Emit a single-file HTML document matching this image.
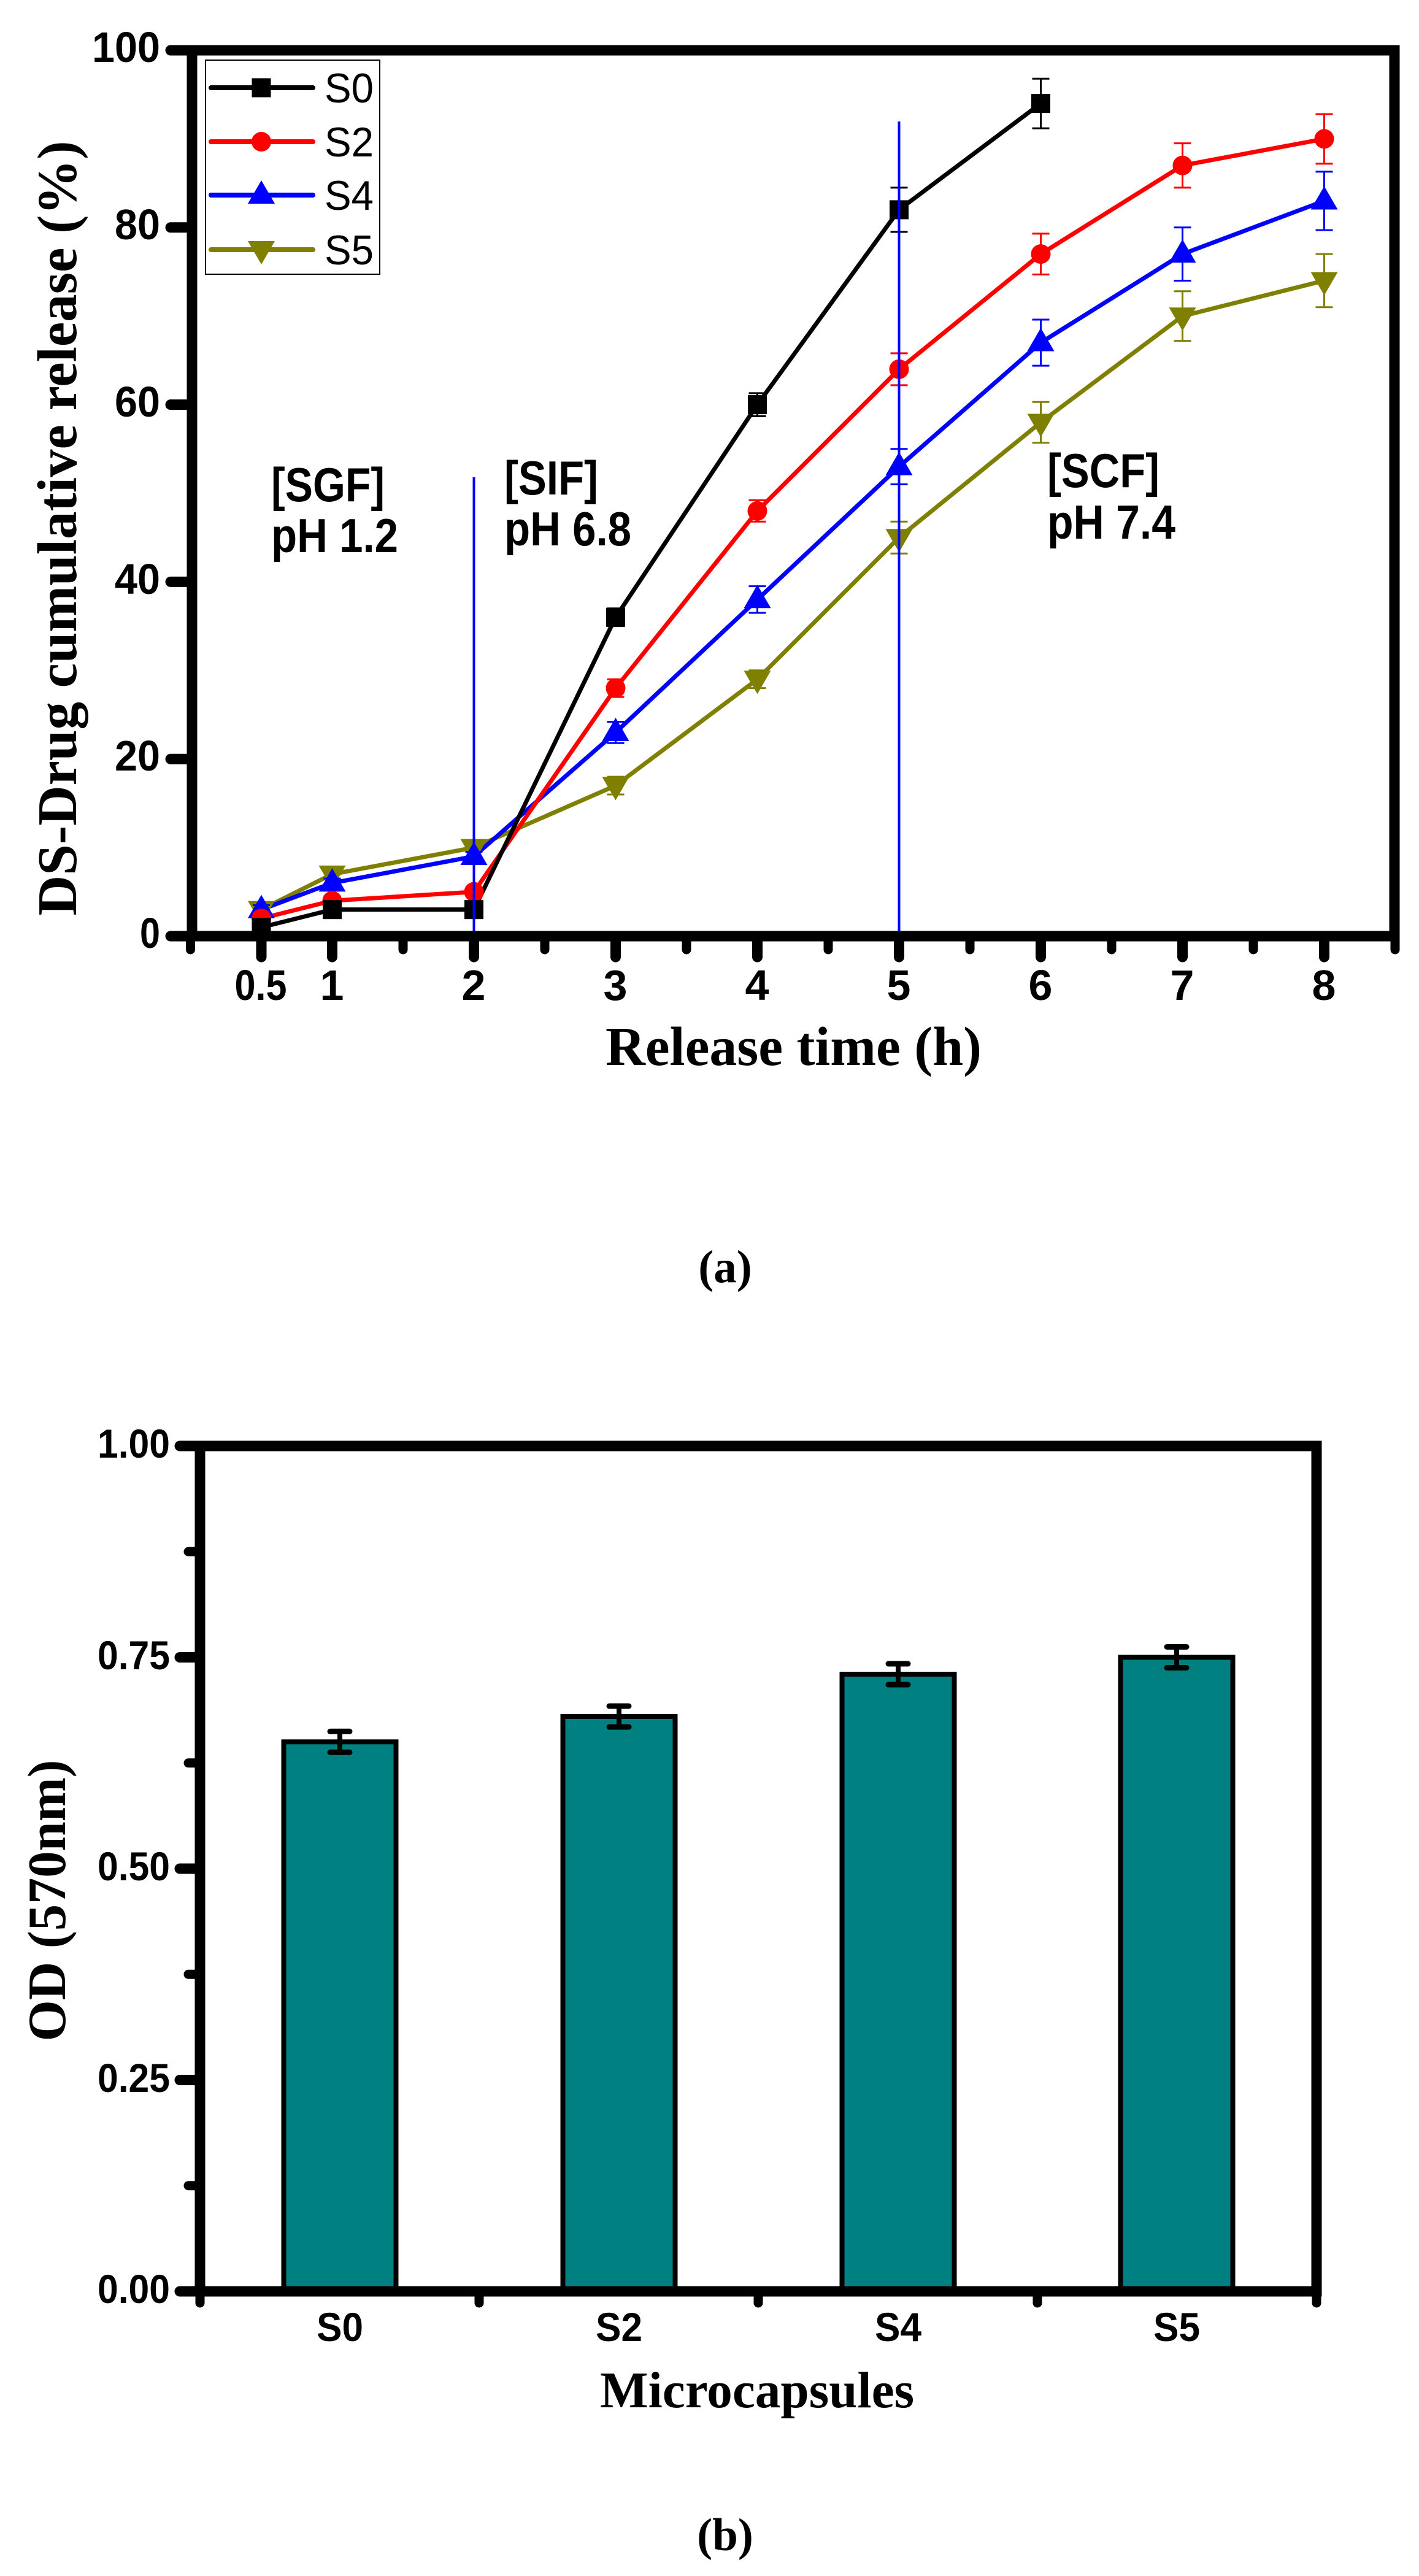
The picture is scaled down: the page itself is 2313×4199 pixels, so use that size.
<!DOCTYPE html>
<html><head><meta charset="utf-8">
<style>
html,body{margin:0;padding:0;background:#fff;}
svg{display:block;}
.tk{font-family:"Liberation Sans",Arial,sans-serif;font-weight:bold;}
.lg{font-family:"Liberation Sans",Arial,sans-serif;}
.sf{font-family:"Liberation Serif","Times New Roman",serif;font-weight:bold;}
</style></head>
<body>
<svg id="s" width="2313" height="4199" viewBox="0 0 2313 4199" xmlns="http://www.w3.org/2000/svg">
<rect width="2313" height="4199" fill="#fff"/>
<!-- ===== Chart A ===== -->
<g id="seriesA"></g>
<!-- blue divider lines -->
<line x1="772.5" y1="778" x2="772.5" y2="1526" stroke="#0000ff" stroke-width="4"/>
<line x1="1465.5" y1="198" x2="1465.5" y2="1526" stroke="#0000ff" stroke-width="4"/>
<g id="axesA" stroke="#000" stroke-linecap="round"></g>
<rect x="313" y="82" width="1960" height="1444" fill="none" stroke="#000" stroke-width="17"/>
<!-- legend -->
<rect x="335" y="98" width="284" height="349" fill="#fff" stroke="#000" stroke-width="2"/>
<g id="legend"></g>
<g class="lg" font-size="68" fill="#000">
<text x="529" y="167" textLength="80" lengthAdjust="spacingAndGlyphs">S0</text>
<text x="529" y="255" textLength="80" lengthAdjust="spacingAndGlyphs">S2</text>
<text x="529" y="342" textLength="80" lengthAdjust="spacingAndGlyphs">S4</text>
<text x="529" y="431" textLength="80" lengthAdjust="spacingAndGlyphs">S5</text>
</g>
<!-- y tick labels A -->
<g class="tk" font-size="70" text-anchor="end" fill="#000">
<text x="261" y="101" textLength="111" lengthAdjust="spacingAndGlyphs">100</text>
<text x="261" y="390" textLength="74" lengthAdjust="spacingAndGlyphs">80</text>
<text x="261" y="679" textLength="74" lengthAdjust="spacingAndGlyphs">60</text>
<text x="261" y="968" textLength="74" lengthAdjust="spacingAndGlyphs">40</text>
<text x="261" y="1256" textLength="74" lengthAdjust="spacingAndGlyphs">20</text>
<text x="261" y="1545" textLength="33" lengthAdjust="spacingAndGlyphs">0</text>
</g>
<!-- x tick labels A -->
<g class="tk" font-size="70" text-anchor="middle" fill="#000">
<text x="425" y="1630" textLength="85" lengthAdjust="spacingAndGlyphs">0.5</text>
<text x="541" y="1630">1</text>
<text x="772" y="1630">2</text>
<text x="1003" y="1630">3</text>
<text x="1234" y="1630">4</text>
<text x="1465" y="1630">5</text>
<text x="1696" y="1630">6</text>
<text x="1927" y="1630">7</text>
<text x="2158" y="1630">8</text>
</g>
<!-- annotations -->
<g class="tk" font-size="78" fill="#000">
<text x="442" y="817" textLength="185" lengthAdjust="spacingAndGlyphs">[SGF]</text>
<text x="442" y="900" textLength="207" lengthAdjust="spacingAndGlyphs">pH 1.2</text>
<text x="822" y="806" textLength="153" lengthAdjust="spacingAndGlyphs">[SIF]</text>
<text x="822" y="889" textLength="207" lengthAdjust="spacingAndGlyphs">pH 6.8</text>
<text x="1707" y="794" textLength="183" lengthAdjust="spacingAndGlyphs">[SCF]</text>
<text x="1707" y="878" textLength="209" lengthAdjust="spacingAndGlyphs">pH 7.4</text>
</g>
<!-- axis titles A -->
<text class="sf" x="987" y="1736" font-size="90" textLength="613" lengthAdjust="spacingAndGlyphs">Release time (h)</text>
<text class="sf" transform="translate(124,861) rotate(-90)" text-anchor="middle" font-size="91" textLength="1263" lengthAdjust="spacingAndGlyphs">DS-Drug cumulative release (%)</text>
<text class="sf" x="1182" y="2090" font-size="75" text-anchor="middle">(a)</text>

<!-- ===== Chart B ===== -->
<g id="barsB"></g>
<g id="axesB" stroke="#000" stroke-linecap="round"></g>
<rect x="326" y="2357" width="1820" height="1378" fill="none" stroke="#000" stroke-width="17"/>
<g class="tk" font-size="66" text-anchor="end" fill="#000">
<text x="277" y="2376" textLength="118" lengthAdjust="spacingAndGlyphs">1.00</text>
<text x="277" y="2721" textLength="118" lengthAdjust="spacingAndGlyphs">0.75</text>
<text x="277" y="3065" textLength="118" lengthAdjust="spacingAndGlyphs">0.50</text>
<text x="277" y="3410" textLength="118" lengthAdjust="spacingAndGlyphs">0.25</text>
<text x="277" y="3754" textLength="118" lengthAdjust="spacingAndGlyphs">0.00</text>
</g>
<g class="tk" font-size="66" text-anchor="middle" fill="#000">
<text x="554" y="3816" textLength="76" lengthAdjust="spacingAndGlyphs">S0</text>
<text x="1009" y="3816" textLength="76" lengthAdjust="spacingAndGlyphs">S2</text>
<text x="1464" y="3816" textLength="76" lengthAdjust="spacingAndGlyphs">S4</text>
<text x="1918" y="3816" textLength="76" lengthAdjust="spacingAndGlyphs">S5</text>
</g>
<text class="sf" x="978" y="3924" font-size="84" textLength="512" lengthAdjust="spacingAndGlyphs">Microcapsules</text>
<text class="sf" transform="translate(106,3098) rotate(-90)" text-anchor="middle" font-size="88" textLength="459" lengthAdjust="spacingAndGlyphs">OD (570nm)</text>
<text class="sf" x="1182" y="4157" font-size="75" text-anchor="middle">(b)</text>
</svg>
<script>
(function(){
var NS="http://www.w3.org/2000/svg";
function el(p,t,a){var e=document.createElementNS(NS,t);for(var k in a)e.setAttribute(k,a[k]);p.appendChild(e);return e;}
function X(t){return 310.5+231*t;}
function Y(v){return 1526-14.44*v;}
var g=document.getElementById("seriesA");
var T=[0.5,1,2,3,4,5,6,7,8];
var S=[
 {c:"#000000",m:"sq",v:[1,3,3,36,60,82,94],e:[0.5,0.5,0.5,1,1.3,2.5,2.8]},
 {c:"#ff0000",m:"ci",v:[2,4,5,28,48,64,77,87,90],e:[0.5,0.5,0.5,1,1.2,1.8,2.3,2.5,2.8]},
 {c:"#0000ff",m:"up",v:[3,6,9,23,38,53,67,77,83],e:[0.5,0.5,0.5,1.2,1.5,2,2.6,3,3.3]},
 {c:"#808000",m:"dn",v:[3,7,10,17,29,45,58,70,74],e:[0.5,0.5,0.5,1,1,1.8,2.3,2.8,3]}
];
function marker(p,m,x,y,c){
 if(m=="sq")el(p,"rect",{x:x-15.5,y:y-15.5,width:31,height:31,fill:c});
 else if(m=="ci")el(p,"circle",{cx:x,cy:y,r:16,fill:c});
 else if(m=="up")el(p,"polygon",{points:(x)+","+(y-24)+" "+(x-22)+","+(y+14)+" "+(x+22)+","+(y+14),fill:c});
 else el(p,"polygon",{points:(x)+","+(y+24)+" "+(x-22)+","+(y-14)+" "+(x+22)+","+(y-14),fill:c});
}
// draw in order S5, S4, S2, S0? Original: S0 on top of lines; draw S5 first
for(var i=S.length-1;i>=0;i--){
 var s=S[i],pts=[];
 for(var j=0;j<s.v.length;j++)pts.push(X(T[j])+","+Y(s.v[j]));
 el(g,"polyline",{points:pts.join(" "),fill:"none",stroke:s.c,"stroke-width":7,"stroke-linejoin":"round"});
}
for(var i=S.length-1;i>=0;i--){
 var s=S[i];
 for(var j=0;j<s.v.length;j++){
  var x=X(T[j]),y=Y(s.v[j]),e=s.e[j]*14.44;
  el(g,"line",{x1:x,y1:y-e,x2:x,y2:y+e,stroke:s.c,"stroke-width":3});
  el(g,"line",{x1:x-14,y1:y-e,x2:x+14,y2:y-e,stroke:s.c,"stroke-width":3});
  el(g,"line",{x1:x-14,y1:y+e,x2:x+14,y2:y+e,stroke:s.c,"stroke-width":3});
  marker(g,s.m,x,y,s.c);
 }
}
// legend
var L=document.getElementById("legend"),ly=[143,231,318,407];
for(var i=0;i<4;i++){
 el(L,"line",{x1:344,y1:ly[i],x2:510,y2:ly[i],stroke:S[i].c,"stroke-width":8,"stroke-linecap":"round"});
 marker(L,S[i].m,426,ly[i],S[i].c);
}
// axes A ticks
var A=document.getElementById("axesA");
for(var v=0;v<=100;v+=20){el(A,"line",{x1:278,y1:Y(v),x2:313,y2:Y(v),"stroke-width":17});}
for(var j=0;j<T.length;j++){el(A,"line",{x1:X(T[j]),y1:1526,x2:X(T[j]),y2:1560,"stroke-width":17});}
var mn=[0,1.5,2.5,3.5,4.5,5.5,6.5,7.5,8.5];
for(var j=0;j<mn.length;j++){el(A,"line",{x1:X(mn[j]),y1:1526,x2:X(mn[j]),y2:1548,"stroke-width":15});}
// chart B
function YB(v){return 3735-1378*v;}
var B=document.getElementById("barsB"),AB=document.getElementById("axesB");
var cx=[554,1009,1464,1918],bv=[0.65,0.68,0.73,0.75];
for(var i=0;i<4;i++){
 el(B,"rect",{x:cx[i]-91.5,y:YB(bv[i]),width:183,height:3735-YB(bv[i]),fill:"#008080",stroke:"#000","stroke-width":8});
 var y=YB(bv[i]),e=17;
 el(B,"line",{x1:cx[i],y1:y-e,x2:cx[i],y2:y+e,stroke:"#000","stroke-width":8});
 el(B,"line",{x1:cx[i]-16,y1:y-e,x2:cx[i]+16,y2:y-e,stroke:"#000","stroke-width":9,"stroke-linecap":"round"});
 el(B,"line",{x1:cx[i]-16,y1:y+e,x2:cx[i]+16,y2:y+e,stroke:"#000","stroke-width":9,"stroke-linecap":"round"});
}
for(var k=0;k<=4;k++){el(AB,"line",{x1:293,y1:YB(k*0.25),x2:326,y2:YB(k*0.25),"stroke-width":17});}
for(var k=0;k<4;k++){el(AB,"line",{x1:307,y1:YB(k*0.25+0.125),x2:326,y2:YB(k*0.25+0.125),"stroke-width":15});}
var bt=[326,781,1236,1691,2146];
for(var k=0;k<bt.length;k++){el(AB,"line",{x1:bt[k],y1:3735,x2:bt[k],y2:3754,"stroke-width":15});}
})();
</script>
</body></html>
